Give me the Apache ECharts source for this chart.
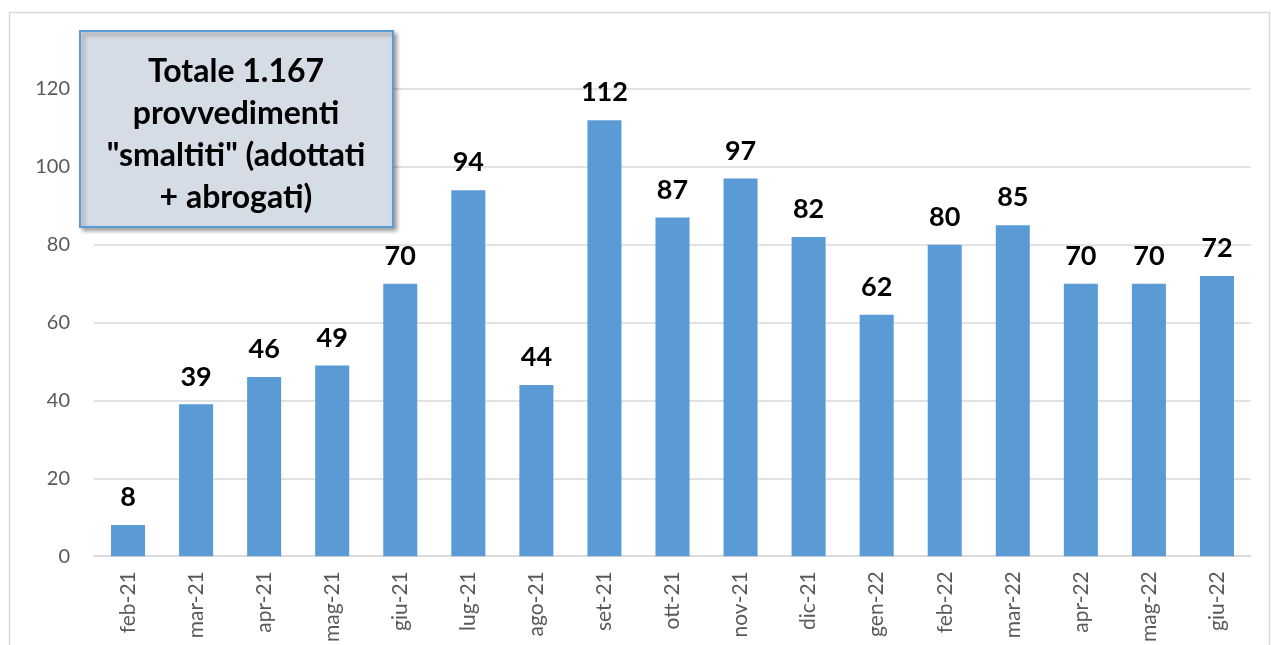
<!DOCTYPE html>
<html>
<head>
<meta charset="utf-8">
<script src="https://cdn.jsdelivr.net/npm/echarts@6/dist/echarts.min.js"></script>
<style>
  html, body { margin: 0; padding: 0; background: #fff; }
  #chart { width: 1271px; height: 645px; }
</style>
</head>
<body>
<div id="chart"></div>
<script>
// provvedimenti smaltiti per mese
const mesi = ["feb-21", "mar-21", "apr-21", "mag-21", "giu-21", "lug-21", "ago-21", "set-21", "ott-21",
  "nov-21", "dic-21", "gen-22", "feb-22", "mar-22", "apr-22", "mag-22", "giu-22"];
const valori = [8, 39, 46, 49, 70, 94, 44, 112, 87, 97, 82, 62, 80, 85, 70, 70, 72];

const chart = echarts.init(document.getElementById("chart"));
const option = {
  animation: false,
  textStyle: { fontFamily: "Lato" },
  grid: { left: 94, right: 20, top: 89, bottom: 86 },
  xAxis: {
    type: "category",
    data: mesi,
    axisLine: { lineStyle: { color: "#d9d9d9", width: 1.5 } },
    axisTick: { show: false },
    axisLabel: { rotate: 90, color: "#595959", fontSize: 21, margin: 15, fontFamily: "Lato" },
  },
  yAxis: {
    type: "value",
    min: 0,
    max: 120,
    interval: 20,
    axisLine: { show: false },
    axisTick: { show: false },
    axisLabel: { color: "#595959", fontSize: 20, margin: 24, fontFamily: "Lato" },
    splitLine: { lineStyle: { color: "#d9d9d9", width: 1.5 } },
  },
  series: [
    {
      type: "bar",
      data: valori,
      barWidth: "50%",
      itemStyle: { color: "#5b9bd5" },
      label: {
        show: true,
        position: "top",
        distance: 14,
        color: "#000",
        fontSize: 27,
        fontWeight: "bold",
        fontFamily: "Lato",
      },
    },
  ],
  graphic: [
    {
      type: "rect",
      shape: { x: 9.5, y: 12.5, width: 1260, height: 700 },
      style: { fill: null, stroke: "#d9d9d9", lineWidth: 1.5 },
      silent: true,
    },
    {
      type: "rect",
      z: 100,
      shape: { x: 80, y: 31, width: 313, height: 196 },
      style: {
        fill: "#d6dce5",
        stroke: "#5b9bd5",
        lineWidth: 2,
        shadowColor: "rgba(0,0,0,0.35)",
        shadowBlur: 4,
        shadowOffsetX: 3,
        shadowOffsetY: 3,
      },
    },
    {
      type: "text",
      z: 101,
      x: 236,
      y: 135,
      style: {
        text: 'Totale 1.167\nprovvedimenti\n"smaltiti" (adottati\n+ abrogati)',
        fontSize: 32,
        fontWeight: "bold",
        fontFamily: "Lato",
        lineHeight: 42,
        fill: "#000",
        align: "center",
        verticalAlign: "middle",
      },
    },
  ],
};
chart.setOption(option);
</script>
</body>
</html>
